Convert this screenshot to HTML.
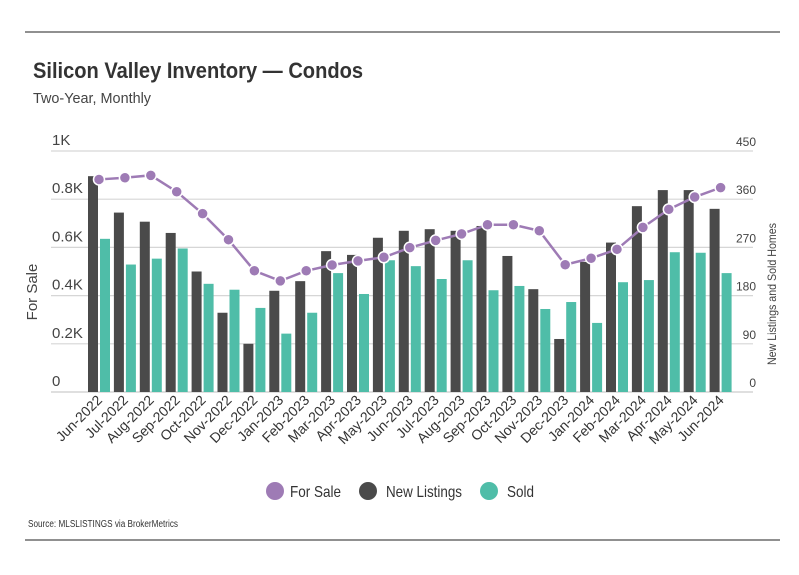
<!DOCTYPE html>
<html><head><meta charset="utf-8"><style>
body{margin:0;background:#fff;}
svg{display:block;font-family:"Liberation Sans",sans-serif;}
</style></head><body>
<svg id="c" width="799" height="575">
<line x1="25" y1="32" x2="780" y2="32" stroke="#222" stroke-width="1"/>
<line x1="25" y1="540" x2="780" y2="540" stroke="#222" stroke-width="1"/>
<text x="33" y="78" font-size="22" font-weight="bold" fill="#333" textLength="330" lengthAdjust="spacingAndGlyphs">Silicon Valley Inventory — Condos</text>
<text x="33" y="103" font-size="15" fill="#444" textLength="118" lengthAdjust="spacingAndGlyphs">Two-Year, Monthly</text>
<text transform="translate(37,292) rotate(-90)" text-anchor="middle" font-size="15" fill="#444">For Sale</text>
<text transform="translate(776,294) rotate(-90)" text-anchor="middle" font-size="12" fill="#444" textLength="142" lengthAdjust="spacingAndGlyphs">New Listings and Sold Homes</text>
<g id="grid"></g><g id="bars"></g><g id="line"></g><g id="xl"></g>
<g>
<circle cx="275" cy="491" r="9" fill="#9e7bb5"/>
<text x="290" y="497" font-size="16" fill="#333" textLength="51" lengthAdjust="spacingAndGlyphs">For Sale</text>
<circle cx="368" cy="491" r="9" fill="#4a4a4a"/>
<text x="386" y="497" font-size="16" fill="#333" textLength="76" lengthAdjust="spacingAndGlyphs">New Listings</text>
<circle cx="489" cy="491" r="9" fill="#4fbda8"/>
<text x="507" y="497" font-size="16" fill="#333" textLength="27" lengthAdjust="spacingAndGlyphs">Sold</text>
</g>
<text x="28" y="527" font-size="10" fill="#333" textLength="150" lengthAdjust="spacingAndGlyphs">Source:  MLSLISTINGS via BrokerMetrics</text>
</svg>
<script>
const months=["Jun-2022","Jul-2022","Aug-2022","Sep-2022","Oct-2022","Nov-2022","Dec-2022","Jan-2023","Feb-2023","Mar-2023","Apr-2023","May-2023","Jun-2023","Jul-2023","Aug-2023","Sep-2023","Oct-2023","Nov-2023","Dec-2023","Jan-2024","Feb-2024","Mar-2024","Apr-2024","May-2024","Jun-2024"];
const forSale=[0.882,0.889,0.899,0.831,0.740,0.632,0.503,0.461,0.503,0.527,0.544,0.559,0.599,0.629,0.656,0.694,0.694,0.669,0.528,0.555,0.592,0.683,0.758,0.809,0.848];
const newListings=[403,335,318,297,225,148,90,189,207,263,256,288,301,304,301,310,254,192,99,243,279,347,377,377,342];
const sold=[286,238,249,268,202,191,157,109,148,222,183,246,235,211,246,190,198,155,168,129,205,209,261,260,222];
const leftTicks=["0","0.2K","0.4K","0.6K","0.8K","1K"];
const leftVals=[0,0.2,0.4,0.6,0.8,1];
const rightTicks=["0","90","180","270","360","450"];
const rightVals=[0,90,180,270,360,450];
const NS="http://www.w3.org/2000/svg";
const y0=392,yTop=151;
const yL=v=>y0-(v/1)*(y0-yTop);
const yR=v=>y0-(v/450)*(y0-yTop);
const xC=i=>99+i*25.9;
function mk(t,a,p){const e=document.createElementNS(NS,t);for(const k in a)e.setAttribute(k,a[k]);p.appendChild(e);return e;}
const grid=document.getElementById('grid');
leftVals.forEach((v,i)=>{
 const l=mk('line',{x1:51,x2:753,y1:yL(v),y2:yL(v),stroke:i==0?'#ccc':'#d6d6d6','stroke-width':1.2},grid);
 
 
 const t=mk('text',{x:52,y:yL(v)-6,'font-size':15,fill:'#444'},grid);t.textContent=leftTicks[i];
 
 
});
rightVals.forEach((v,i)=>{
 const t=mk('text',{x:756,y:yR(v)-5,'font-size':12,fill:'#444','text-anchor':'end'},grid);t.textContent=rightTicks[i];
 
 
});
const bars=document.getElementById('bars');
months.forEach((m,i)=>{
 const c=xC(i);
 const b=mk('rect',{x:c-11,y:yR(newListings[i]),width:10,height:y0-yR(newListings[i]),fill:'#4a4a4a'},bars);
 
 
 const s=mk('rect',{x:c+1,y:yR(sold[i]),width:10,height:y0-yR(sold[i]),fill:'#4fbda8'},bars);
 
 
 const t=mk('text',{'font-size':14,fill:'#333','text-anchor':'end',transform:`translate(${c+4},${401}) rotate(-45)`},document.getElementById('xl'));
 t.textContent=m;
 
 
});
const lg=document.getElementById('line');
const p=mk('polyline',{points:forSale.map((v,i)=>xC(i)+','+yL(v)).join(' '),fill:'none',stroke:'#9e7bb5','stroke-width':2.5},lg);


forSale.forEach((v,i)=>{
 const d=mk('circle',{cx:xC(i),cy:yL(v),r:5.5,fill:'#9e7bb5',stroke:'#fff','stroke-width':1.5},lg);
 
 
});
</script>
</body></html>
